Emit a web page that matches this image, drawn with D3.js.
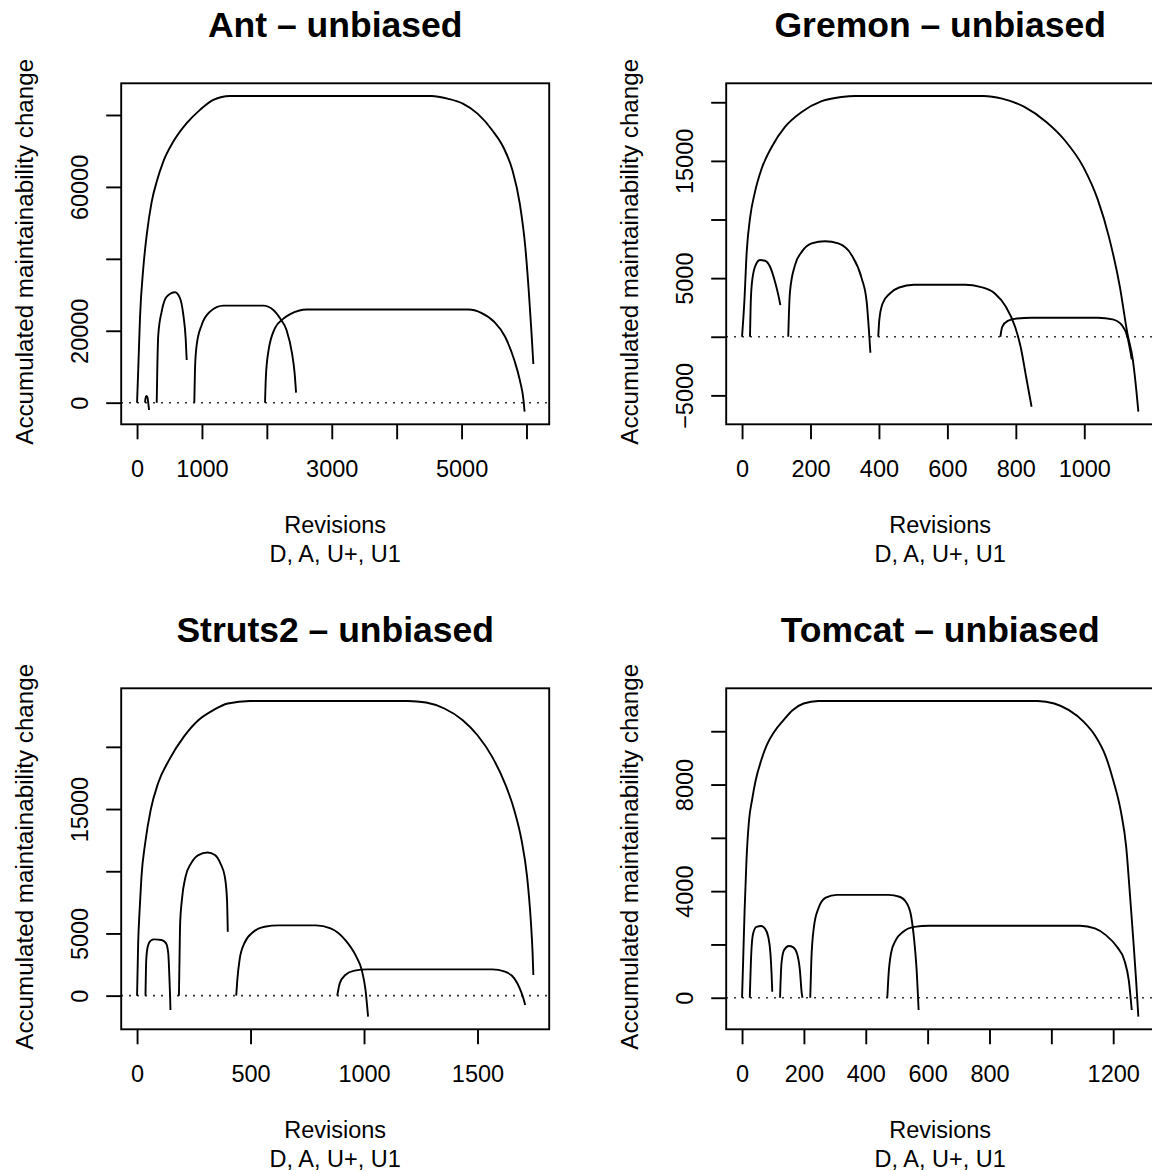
<!DOCTYPE html>
<html>
<head>
<meta charset="utf-8">
<script src="https://cdn.jsdelivr.net/npm/d3@7"></script>
<style>
  html, body { margin: 0; padding: 0; background: #fff; }
  svg { display: block; }
  text { font-family: "Liberation Sans", Arial, Helvetica, sans-serif; fill: #000; }
</style>
</head>
<body>
<svg id="chart" width="1152" height="1171"></svg>
<script>
// ---------- Data ----------
const titles = ["Ant – unbiased", "Gremon – unbiased", "Struts2 – unbiased", "Tomcat – unbiased"];
const xTitle1 = "Revisions";
const xTitle2 = "D, A, U+, U1";
const yTitle = "Accumulated maintainability change";

// Ant
const ant1 = [[0,0],[19,9570],[45,23480],[96,37390],[149,46650],[226,55920],[303,61480],[404,67050],[559,72600],[765,77730],[970,81430],[1175,84210],[1432,85300],[4539,85300],[4793,84500],[5020,83150],[5246,80370],[5473,75740],[5642,71100],[5784,64600],[5897,55370],[5982,43300],[6038,30370],[6078,19260],[6106,10740]];
const ant2 = [[123,0],[130,1200],[145,1860],[160,1500],[172,0],[185,-2030]];
const ant3 = [[303,0],[312,9570],[327,18830],[379,25320],[457,29490],[585,30710],[662,29040],[713,24400],[749,17920],[765,11880]];
const ant4 = [[882,0],[893,9570],[919,16050],[996,21620],[1124,25320],[1329,26990],[1945,26990],[2100,25790],[2203,23480],[2303,20190],[2388,13700],[2428,8150],[2450,2780]];
const ant5 = [[1972,0],[1985,7220],[2023,14190],[2125,20700],[2250,23300],[2360,24630],[2615,25925],[5105,25925],[5303,25000],[5501,22500],[5671,18330],[5812,11850],[5897,6300],[5954,740],[5971,-2500]];
const antXTicks = [0,1000,2000,3000,4000,5000,6000];
const antXLabels = [0,1000,3000,5000];
const antYTicks = [0,20000,40000,60000,80000];
const antYLabels = [0,20000,60000];

// Gremon
const grem1 = [[0,0],[6.7,2980],[13.6,7240],[23.2,10090],[37.8,12360],[57.4,14350],[86.6,16190],[125.5,17900],[174.3,19170],[232.7,20090],[291,20450],[330,20540],[706,20540],[760,20310],[825,19600],[889,18320],[943,16760],[997,14490],[1040,11650],[1072,8520],[1104,4260],[1126,280],[1142,-1990],[1153,-4830],[1158,-6390]];
const grem2 = [[23.2,0],[25,2500],[28.2,4400],[37.8,5970],[52.4,6540],[67,6480],[81.8,5970],[96.3,4690],[106,3550],[112,2700]];
const grem3 = [[135,0],[137,2000],[140,3835],[154.7,6110],[174.3,7240],[203.5,7960],[242.4,8150],[281.3,7960],[320.4,6960],[349.6,4980],[364.2,2980],[371,430],[375,-1360]];
const grem4 = [[398,0],[401,1420],[410.8,2840],[432,3690],[459,4200],[502,4430],[652.7,4430],[695.7,4260],[738.7,3690],[771,2560],[797.8,850],[814,-850],[830,-3410],[846,-5970]];
const grem5 = [[754.8,0],[760.2,850],[776.3,1360],[803,1560],[846,1620],[1040,1620],[1083,1480],[1110,990],[1126,0],[1134,-1140],[1138.7,-1930]];
const gremXTicks = [0,200,400,600,800,1000,1200];
const gremXLabels = [0,200,400,600,800,1000];
const gremYTicks = [-5000,0,5000,10000,15000,20000];
const gremYLabels = [-5000,5000,15000];

// Struts2
const str1 = [[0,0],[4.9,4200],[11.3,6880],[19.4,9560],[35.6,12230],[59.9,14910],[92.2,17050],[140.8,18930],[205.5,20800],[270,22140],[335,22940],[399.7,23480],[496.8,23690],[1192.6,23690],[1273.5,23560],[1354,23080],[1435,22140],[1500,20930],[1564.7,19190],[1621,17050],[1662,14910],[1694,12500],[1718.4,9560],[1734.6,6080],[1742.7,3400],[1746,1660]];
const str2 = [[37.2,0],[40.5,2860],[47,3935],[60,4420],[76,4520],[108,4470],[128,4200],[137.5,3400],[142.4,1530],[145.6,-80],[147.2,-1150]];
const str3 = [[184.5,0],[189.3,5540],[197.4,7680],[213.6,9560],[237.9,10630],[270.2,11300],[310.7,11510],[343,11300],[367.3,10630],[386.7,9560],[396.4,7680],[399.7,5140]];
const str4 = [[436.9,0],[441.7,1260],[451.5,2860],[472.5,4200],[513,5140],[561.5,5540],[626,5650],[788,5650],[852.8,5410],[917.5,4470],[966,3130],[990,2060],[1006.5,455],[1017.8,-1690]];
const str5 = [[882,0],[893,990],[917.5,1660],[958,2010],[1014.6,2115],[1564.7,2115],[1621,1930],[1662,1390],[1686,590],[1702,-210],[1710,-750]];
const strXTicks = [0,500,1000,1500];
const strXLabels = [0,500,1000,1500];
const strYTicks = [0,5000,10000,15000,20000];
const strYLabels = [0,5000,15000];

// Tomcat
const tom1 = [[0,0],[3.6,1410],[8.3,3290],[14.3,5160],[22.6,6660],[32.2,7410],[44.1,8160],[62,8910],[79.9,9475],[103.7,9975],[133.5,10410],[163.3,10790],[199,11040],[246.7,11137],[955.9,11137],[1009.5,11040],[1057,10790],[1105,10350],[1140.6,9850],[1176.4,9040],[1200,8160],[1224,7040],[1242,5660],[1253.9,3910],[1265.8,2040],[1274,660],[1281.3,-710]];
const tom2 = [[25,0],[29.8,1660],[35.8,2410],[46.5,2660],[62,2690],[73.9,2600],[84.6,2290],[91.8,1660],[95.4,910],[97.7,225]];
const tom3 = [[122.8,0],[127.5,1290],[135.9,1790],[151.4,1940],[165.7,1890],[177.6,1660],[187,1040],[193,160],[195.5,0]];
const tom4 = [[220.5,0],[224,1410],[232.4,2660],[246.7,3350],[270.6,3760],[306.3,3860],[473.2,3860],[508.9,3790],[532.8,3540],[547,3040],[556.6,2160],[563.8,1160],[570.9,-460]];
const tom5 = [[469.6,0],[473.2,790],[481.5,1660],[497,2160],[520.9,2475],[556.6,2660],[604.3,2700],[1093,2700],[1140.6,2600],[1176.4,2350],[1212,1910],[1236,1410],[1250.3,660],[1260,-460]];
const tomXTicks = [0,200,400,600,800,1000,1200];
const tomXLabels = [0,200,400,600,800,1200];
const tomYTicks = [0,2000,4000,6000,8000,10000];
const tomYLabels = [0,4000,8000];

const panels = [
  { title: titles[0], series: [ant1, ant2, ant3, ant4, ant5], xTicks: antXTicks, xLabels: antXLabels, yTicks: antYTicks, yLabels: antYLabels },
  { title: titles[1], series: [grem1, grem2, grem3, grem4, grem5], xTicks: gremXTicks, xLabels: gremXLabels, yTicks: gremYTicks, yLabels: gremYLabels },
  { title: titles[2], series: [str1, str2, str3, str4, str5], xTicks: strXTicks, xLabels: strXLabels, yTicks: strYTicks, yLabels: strYLabels },
  { title: titles[3], series: [tom1, tom2, tom3, tom4, tom5], xTicks: tomXTicks, xLabels: tomXLabels, yTicks: tomYTicks, yLabels: tomYLabels }
];

// ---------- Layout ----------
const panelW = 605, panelH = 605;
const box = { left: 121.2, right: 549.2, top: 83.3, bottom: 424.3 };
const tickLen = 15;
const axisFont = 23.5;
const lw = 1.9;
const fontFam = "'Liberation Sans', Arial, Helvetica, sans-serif";
const fmt = v => (v < 0 ? "\u2212" + Math.abs(v) : String(v));

const svg = d3.select("#chart");

function padded(ext) {
  const r = ext[1] - ext[0];
  return [ext[0] - 0.04 * r, ext[1] + 0.04 * r];
}

panels.forEach((p, i) => {
  const col = i % 2, row = Math.floor(i / 2);
  const g = svg.append("g").attr("transform", `translate(${col * panelW},${row * panelH})`);

  const all = p.series.flat();
  const x = d3.scaleLinear().domain(padded(d3.extent(all, d => d[0]))).range([box.left, box.right]);
  const y = d3.scaleLinear().domain(padded(d3.extent(all, d => d[1]))).range([box.bottom, box.top]);

  // zero reference line (dotted)
  g.append("line")
    .attr("x1", box.left).attr("x2", box.right)
    .attr("y1", y(0)).attr("y2", y(0))
    .attr("stroke", "#000").attr("stroke-width", 1.6)
    .attr("stroke-dasharray", "1.6,6.4");

  // curves
  const line = d3.line().x(d => x(d[0])).y(d => y(d[1])).curve(d3.curveMonotoneX);
  g.selectAll("path.curve").data(p.series).enter().append("path")
    .attr("class", "curve")
    .attr("d", line)
    .attr("fill", "none").attr("stroke", "#000").attr("stroke-width", lw)
    .attr("stroke-linejoin", "round");

  // box
  g.append("rect")
    .attr("x", box.left).attr("y", box.top)
    .attr("width", box.right - box.left).attr("height", box.bottom - box.top)
    .attr("fill", "none").attr("stroke", "#000").attr("stroke-width", lw);

  // x axis
  const xAxis = d3.axisBottom(x).tickValues(p.xTicks).tickSize(tickLen)
    .tickFormat(v => p.xLabels.includes(v) ? fmt(v) : "");
  const gx = g.append("g").attr("transform", `translate(0,${box.bottom})`).call(xAxis);
  gx.select(".domain").remove();
  gx.selectAll(".tick line").attr("stroke", "#000").attr("stroke-width", lw);
  gx.selectAll(".tick text")
    .attr("y", 52.7).attr("dy", null)
    .attr("font-size", axisFont)
    .attr("font-family", fontFam)
    .attr("fill", "#000");

  // y axis
  const yAxis = d3.axisLeft(y).tickValues(p.yTicks).tickSize(tickLen)
    .tickFormat(v => p.yLabels.includes(v) ? fmt(v) : "");
  const gy = g.append("g").attr("transform", `translate(${box.left},0)`).call(yAxis);
  gy.select(".domain").remove();
  gy.selectAll(".tick line").attr("stroke", "#000").attr("stroke-width", lw);
  gy.selectAll(".tick text")
    .attr("x", null).attr("dy", null)
    .attr("transform", "translate(-33,0) rotate(-90)")
    .attr("text-anchor", "middle")
    .attr("font-size", axisFont)
    .attr("font-family", fontFam)
    .attr("fill", "#000");

  const cx = (box.left + box.right) / 2;
  const cy = (box.top + box.bottom) / 2;

  // title
  g.append("text")
    .attr("x", cx).attr("y", 36.7)
    .attr("text-anchor", "middle")
    .attr("font-size", 35.5).attr("font-weight", "bold")
    .text(p.title);

  // x titles
  g.append("text").attr("x", cx).attr("y", 533.3).attr("text-anchor", "middle")
    .attr("font-size", axisFont).text(xTitle1);
  g.append("text").attr("x", cx).attr("y", 561.7).attr("text-anchor", "middle")
    .attr("font-size", axisFont).text(xTitle2);

  // y title
  g.append("text")
    .attr("transform", `translate(33,${cy - 2}) rotate(-90)`)
    .attr("text-anchor", "middle")
    .attr("font-size", 24.2).text(yTitle);
});
</script>
</body>
</html>
